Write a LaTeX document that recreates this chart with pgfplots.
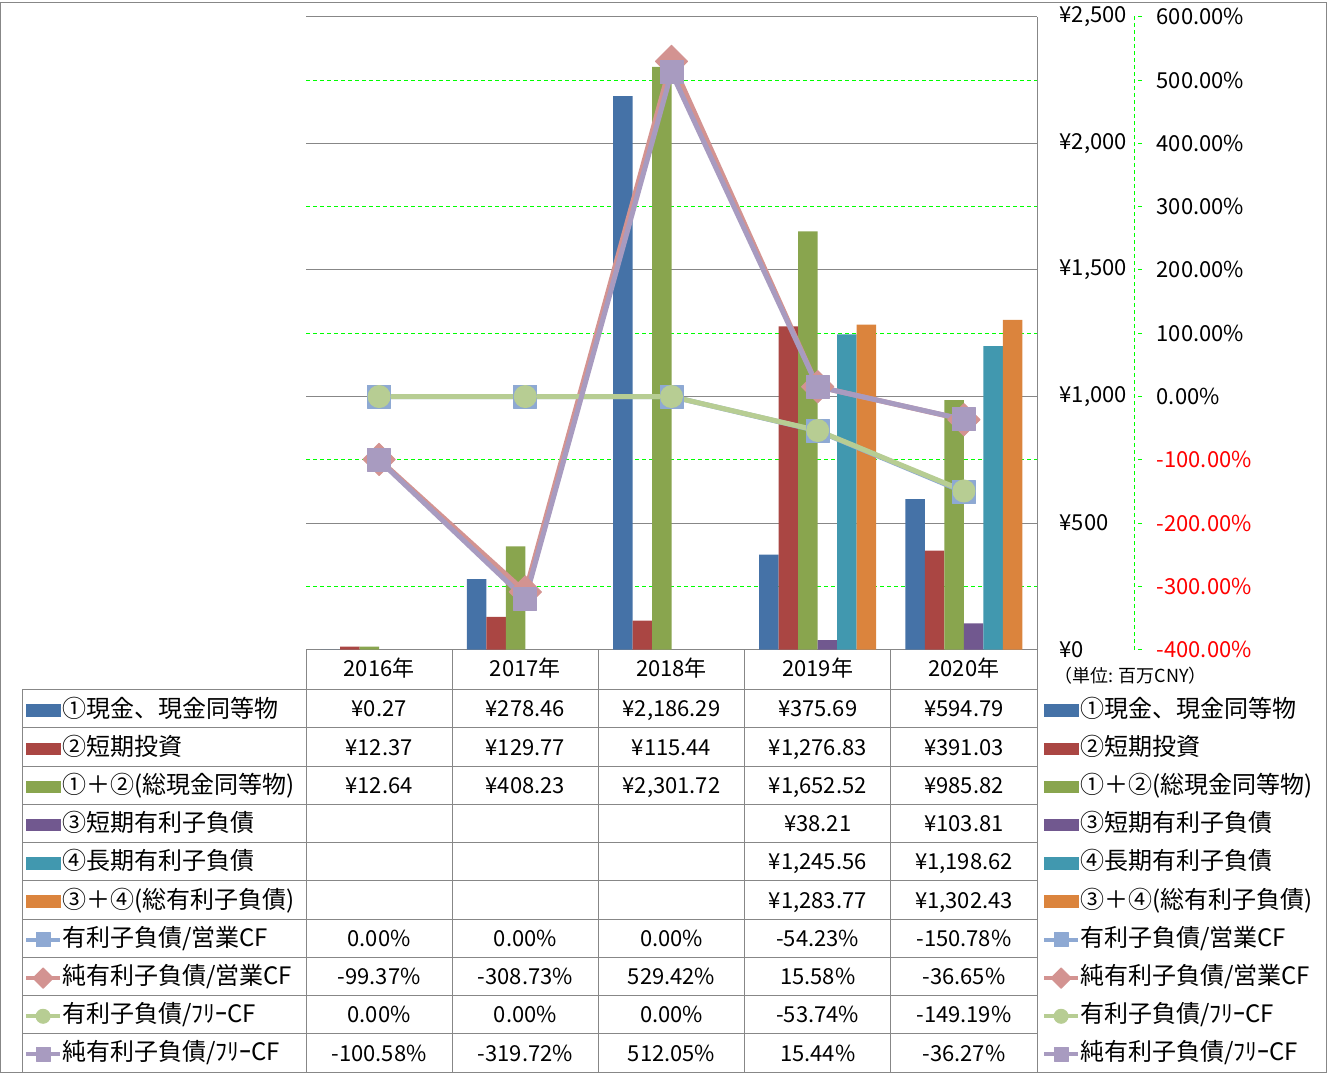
\documentclass[border=0pt]{standalone}
\usepackage{pgfplots}
\pgfplotsset{compat=1.18}
\usepackage{fontspec}
\setmainfont{Noto Sans CJK JP}
\definecolor{cA}{HTML}{4572A7}
\definecolor{cB}{HTML}{AA4643}
\definecolor{cC}{HTML}{89A54E}
\definecolor{cD}{HTML}{71588F}
\definecolor{cE}{HTML}{4198AF}
\definecolor{cF}{HTML}{DB843D}
\definecolor{lA}{HTML}{8EA9D3}
\definecolor{lB}{HTML}{D39391}
\definecolor{lC}{HTML}{B7CD93}
\definecolor{lD}{HTML}{A89BC0}
\definecolor{gridc}{HTML}{878787}
\definecolor{limeg}{HTML}{00FF00}
\pgfplotsset{
  legstyle/.style={
    legend cell align=left,
    legend style={draw=none, fill=none, inner sep=0pt, outer sep=0pt,
      row sep=7.6pt, column sep=0pt,
      font=\fontsize{12}{14}\selectfont,
      nodes={inner sep=0pt, text height=9pt, text depth=2.5pt}},
  },
  pA/.style={lA, line width=2.5pt, line join=round, mark=square*, mark size=5.75pt, mark options={fill=lA, draw=lA, line width=0.5pt, rounded corners=1.5pt}},
  pB/.style={lB, line width=2.5pt, line join=round, mark=square*, mark size=5.7pt, mark options={rotate=45, fill=lB, draw=lB, line width=0.5pt, rounded corners=1.5pt}},
  pC/.style={lC, line width=2.5pt, line join=round, mark=*, mark size=5.5pt, mark options={fill=lC, draw=lC, line width=0.5pt}},
  pD/.style={lD, line width=2.5pt, line join=round, mark=square*, mark size=5.75pt, mark options={fill=lD, draw=lD, line width=0.5pt, rounded corners=1.5pt}},
}
\newcommand\trow[6]{\node at (379.1,#1) {#2};\node at (525.3,#1) {#3};\node at (671.5,#1) {#4};\node at (817.7,#1) {#5};\node at (963.9,#1) {#6};}
\newcommand\legentries{%
  \addlegendimage{area legend, draw=cA, line width=0pt, fill=cA}\addlegendentry{①現金、現金同等物}
  \addlegendimage{area legend, draw=cB, line width=0pt, fill=cB}\addlegendentry{②短期投資}
  \addlegendimage{area legend, draw=cC, line width=0pt, fill=cC}\addlegendentry{①＋②(総現金同等物)}
  \addlegendimage{area legend, draw=cD, line width=0pt, fill=cD}\addlegendentry{③短期有利子負債}
  \addlegendimage{area legend, draw=cE, line width=0pt, fill=cE}\addlegendentry{④長期有利子負債}
  \addlegendimage{area legend, draw=cF, line width=0pt, fill=cF}\addlegendentry{③＋④(総有利子負債)}
  \addlegendimage{pA, line width=2pt, mark size=3.5pt}\addlegendentry{有利子負債/営業CF}
  \addlegendimage{pB, line width=2pt, mark size=3.6pt}\addlegendentry{純有利子負債/営業CF}
  \addlegendimage{pC, line width=2pt, mark size=3.5pt}\addlegendentry{有利子負債/ﾌﾘｰCF}
  \addlegendimage{pD, line width=2pt, mark size=3.5pt}\addlegendentry{純有利子負債/ﾌﾘｰCF}
}
\begin{document}
\begin{tikzpicture}
\draw[gridc, line width=0.5pt] (0.25pt,-0.25pt) rectangle (663.25pt,-535.25pt);

% primary axis (bars)
\begin{axis}[
  at={(153pt,-324pt)}, anchor=south west,
  scale only axis, width=365.5pt, height=316.5pt,
  xmin=-0.5, xmax=4.5, ymin=0, ymax=2500,
  ybar=0pt, bar width=9.75pt,
  axis x line*=bottom, axis y line*=right,
  axis line style={gridc, line width=0.5pt, -},
  xtick={0,1,2,3,4},
  xticklabels={2016年,2017年,2018年,2019年,2020年},
  xticklabel style={anchor=center, yshift=-9pt},
  ytick={0,500,1000,1500,2000,2500},
  yticklabels={¥0,¥500,{¥1,000},{¥1,500},{¥2,000},{¥2,500}},
  yticklabel style={xshift=7.8pt},
  major tick length=0pt,
  ticklabel style={font=\fontsize{11}{13}\selectfont},
  ymajorgrids, major grid style={gridc, line width=0.5pt},
  extra y ticks={250,750,1250,1750,2250},
  extra y tick labels={},
  extra y tick style={grid=major, major grid style={limeg, dash pattern=on 2pt off 1.5pt, line width=0.5pt}},
  clip=false,
]
\addplot[fill=cA, draw=none] coordinates {(0,0.27)(1,278.46)(2,2186.29)(3,375.69)(4,594.79)};
\addplot[fill=cB, draw=none] coordinates {(0,12.37)(1,129.77)(2,115.44)(3,1276.83)(4,391.03)};
\addplot[fill=cC, draw=none] coordinates {(0,12.64)(1,408.23)(2,2301.72)(3,1652.52)(4,985.82)};
\addplot[fill=cD, draw=none] coordinates {(3,38.21)(4,103.81)};
\addplot[fill=cE, draw=none] coordinates {(3,1245.56)(4,1198.62)};
\addplot[fill=cF, draw=none] coordinates {(3,1283.77)(4,1302.43)};
\end{axis}

% secondary axis (ratios)
\begin{axis}[
  at={(153pt,-324pt)}, anchor=south west,
  scale only axis, width=414pt, height=316.5pt,
  xmin=-0.5, xmax=5.1635, ymin=-400, ymax=600,
  axis x line=none, axis y line*=right,
  y axis line style={limeg, dash pattern=on 2pt off 1.5pt, line width=0.5pt, -},
  ytick={-400,-300,...,600},
  yticklabels={{\color{red}-400.00\%},{\color{red}-300.00\%},{\color{red}-200.00\%},{\color{red}-100.00\%},0.00\%,100.00\%,200.00\%,300.00\%,400.00\%,500.00\%,600.00\%},
  tick align=outside, major tick length=4pt,
  ytick style={limeg, dash pattern=on 2pt off 1.5pt, line width=0.5pt},
  yticklabel style={xshift=3.8pt, font=\fontsize{11}{13}\selectfont},
  clip=false,
]
\addplot[pA] coordinates {(0,0)(1,0)(2,0)(3,-54.23)(4,-150.78)};
\addplot[pB] coordinates {(0,-99.37)(1,-308.73)(2,529.42)(3,15.58)(4,-36.65)};
\addplot[pC] coordinates {(0,0)(1,0)(2,0)(3,-53.74)(4,-149.19)};
\addplot[pD] coordinates {(0,-100.58)(1,-319.72)(2,512.05)(3,15.44)(4,-36.27)};
\end{axis}

% left legend (table keys)
\begin{axis}[at={(0pt,-535.5pt)}, anchor=south west, scale only axis,
  width=663.5pt, height=535.5pt, hide axis, xmin=0, xmax=1, ymin=0, ymax=1,
  legstyle, legend style={at={(0.01809,0.3488)}, anchor=north west}]
\legentries
\end{axis}

% right legend
\begin{axis}[at={(0pt,-535.5pt)}, anchor=south west, scale only axis,
  width=663.5pt, height=535.5pt, hide axis, xmin=0, xmax=1, ymin=0, ymax=1,
  legstyle, legend style={at={(0.78523,0.3488)}, anchor=north west}]
\legentries
\end{axis}

% data table
\begin{scope}[x=0.5pt, y=-0.5pt, gridc, line width=0.5pt]
\foreach \x in {306,452.2,598.4,744.6,890.8,1037}{\draw (\x,648) -- (\x,1070.5);}
\draw (22,688) -- (22,1070.5);
\foreach \i in {0,...,10}{\draw (22,688+38.25*\i) -- (1037,688+38.25*\i);}
\end{scope}
\begin{scope}[x=0.5pt, y=-0.5pt, every node/.style={font=\fontsize{11}{13}\selectfont, text height=9pt, text depth=1pt, inner sep=0pt, anchor=center}]
\trow{707.1}{¥0.27}{¥278.46}{¥2,186.29}{¥375.69}{¥594.79}
\trow{745.4}{¥12.37}{¥129.77}{¥115.44}{¥1,276.83}{¥391.03}
\trow{783.6}{¥12.64}{¥408.23}{¥2,301.72}{¥1,652.52}{¥985.82}
\trow{821.9}{}{}{}{¥38.21}{¥103.81}
\trow{860.1}{}{}{}{¥1,245.56}{¥1,198.62}
\trow{898.4}{}{}{}{¥1,283.77}{¥1,302.43}
\trow{936.6}{0.00\%}{0.00\%}{0.00\%}{-54.23\%}{-150.78\%}
\trow{974.9}{-99.37\%}{-308.73\%}{529.42\%}{15.58\%}{-36.65\%}
\trow{1013.1}{0.00\%}{0.00\%}{0.00\%}{-53.74\%}{-149.19\%}
\trow{1051.4}{-100.58\%}{-319.72\%}{512.05\%}{15.44\%}{-36.27\%}
\node[anchor=west, font=\fontsize{9}{11}\selectfont, text height=7pt, text depth=2pt] at (1054,676) {（単位: 百万CNY）};
\end{scope}
\end{tikzpicture}
\end{document}
